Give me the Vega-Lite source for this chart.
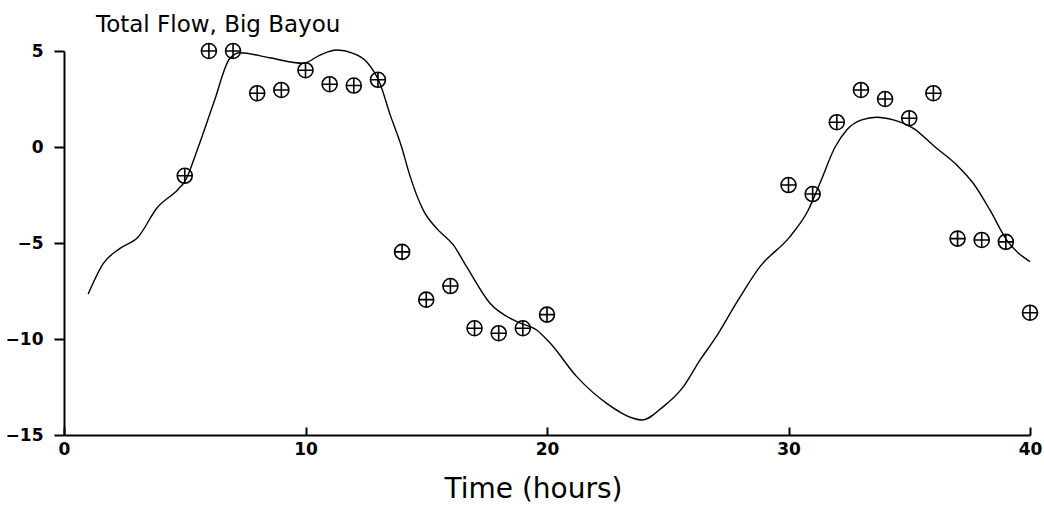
{
  "$schema": "https://vega.github.io/schema/vega-lite/v6.json",
  "autosize": "none",
  "width": 966,
  "height": 384,
  "padding": {"left": 64, "top": 51, "right": 14, "bottom": 76},
  "background": "white",
  "title": {"text": "Total Flow, Big Bayou", "anchor": "start", "frame": "group", "dx": 32, "offset": 3, "fontSize": 23, "font": "DejaVu Sans", "fontWeight": "normal", "color": "black"},
  "config": {"view": {"stroke": null}, "axis": {"grid": false, "domainColor": "black", "tickColor": "black", "labelColor": "black", "titleColor": "black"}},
  "datasets": {
    "obs": [
      {"t": 5, "q": -1.5}, {"t": 6, "q": 5.0}, {"t": 7, "q": 5.0}, {"t": 8, "q": 2.8}, {"t": 9, "q": 2.97},
      {"t": 10, "q": 4.0}, {"t": 11, "q": 3.27}, {"t": 12, "q": 3.2}, {"t": 13, "q": 3.5}, {"t": 14, "q": -5.46},
      {"t": 15, "q": -7.95}, {"t": 16, "q": -7.24}, {"t": 17, "q": -9.44}, {"t": 18, "q": -9.7}, {"t": 19, "q": -9.44},
      {"t": 20, "q": -8.73}, {"t": 30, "q": -1.98}, {"t": 31, "q": -2.45}, {"t": 32, "q": 1.29}, {"t": 33, "q": 2.97},
      {"t": 34, "q": 2.5}, {"t": 35, "q": 1.5}, {"t": 36, "q": 2.8}, {"t": 37, "q": -4.77}, {"t": 38, "q": -4.84},
      {"t": 39, "q": -4.94}, {"t": 40, "q": -8.63}
    ],
    "model": [
      {"t": 1.0, "q": -7.66}, {"t": 1.63, "q": -6.06}, {"t": 2.32, "q": -5.28}, {"t": 3.08, "q": -4.67},
      {"t": 3.84, "q": -3.19}, {"t": 4.73, "q": -2.2}, {"t": 5.0, "q": -1.8}, {"t": 5.56, "q": 0.0},
      {"t": 6.2, "q": 2.3}, {"t": 6.87, "q": 4.62}, {"t": 7.29, "q": 4.91}, {"t": 8.5, "q": 4.65},
      {"t": 9.91, "q": 4.36}, {"t": 10.6, "q": 4.79}, {"t": 11.29, "q": 5.05}, {"t": 11.97, "q": 4.88},
      {"t": 12.53, "q": 4.44}, {"t": 13.08, "q": 3.32}, {"t": 13.5, "q": 1.7}, {"t": 13.98, "q": 0.0},
      {"t": 14.3, "q": -1.4}, {"t": 14.88, "q": -3.3}, {"t": 15.43, "q": -4.24}, {"t": 16.12, "q": -5.1},
      {"t": 16.67, "q": -6.23}, {"t": 17.64, "q": -8.14}, {"t": 18.75, "q": -9.1}, {"t": 19.57, "q": -9.53},
      {"t": 20.12, "q": -10.2}, {"t": 21.23, "q": -11.96}, {"t": 22.47, "q": -13.35}, {"t": 23.57, "q": -14.13},
      {"t": 23.92, "q": -14.22}, {"t": 24.82, "q": -13.52}, {"t": 25.65, "q": -12.48}, {"t": 26.34, "q": -11.09},
      {"t": 26.96, "q": -9.97}, {"t": 27.9, "q": -8.0}, {"t": 28.82, "q": -6.23}, {"t": 30.06, "q": -4.67},
      {"t": 30.82, "q": -3.28}, {"t": 31.3, "q": -1.89}, {"t": 31.93, "q": 0.0}, {"t": 32.41, "q": 0.89},
      {"t": 33.03, "q": 1.41}, {"t": 33.65, "q": 1.55}, {"t": 34.34, "q": 1.41}, {"t": 35.17, "q": 0.97},
      {"t": 36.07, "q": 0.0}, {"t": 36.97, "q": -0.94}, {"t": 37.65, "q": -1.89}, {"t": 38.34, "q": -3.28},
      {"t": 39.03, "q": -4.84}, {"t": 40.0, "q": -5.97}
    ]
  },
  "encoding": {
    "x": {"field": "t", "type": "quantitative", "scale": {"domain": [0, 40], "nice": false, "zero": false},
      "axis": {"values": [0, 10, 20, 30, 40], "tickSize": -8, "tickWidth": 2, "domainWidth": 2, "labelPadding": 14,
        "labelFont": "DejaVu Sans", "labelFontSize": 17, "labelFontWeight": "bold", "labelFlush": false,
        "title": "Time (hours)", "titleFont": "DejaVu Sans", "titleFontSize": 28, "titleFontWeight": "normal", "titlePadding": 18, "titleX": 469, "titleAlign": "center"}},
    "y": {"field": "q", "type": "quantitative", "scale": {"domain": [-15, 5], "nice": false, "zero": false},
      "axis": {"values": [-15, -10, -5, 0, 5], "tickSize": 10, "tickWidth": 2, "domainWidth": 2, "labelPadding": 11,
        "labelFont": "DejaVu Sans", "labelFontSize": 17, "labelFontWeight": "bold", "labelFlush": false, "title": null}}
  },
  "layer": [
    {"mark": {"type": "rule", "color": "black", "strokeWidth": 1.5}, "encoding": {"x": null, "y": {"datum": 0}}},
    {"data": {"name": "model"}, "mark": {"type": "line", "color": "black", "strokeWidth": 1.4, "interpolate": "monotone"}},
    {"data": {"name": "obs"}, "mark": {"type": "point", "shape": "circle", "filled": false, "stroke": "black", "strokeWidth": 1.6, "size": 225, "opacity": 1}},
    {"data": {"name": "obs"}, "mark": {"type": "point", "shape": "M-1,0L1,0M0,-1L0,1", "filled": false, "stroke": "black", "strokeWidth": 1.6, "size": 225, "opacity": 1}}
  ]
}
